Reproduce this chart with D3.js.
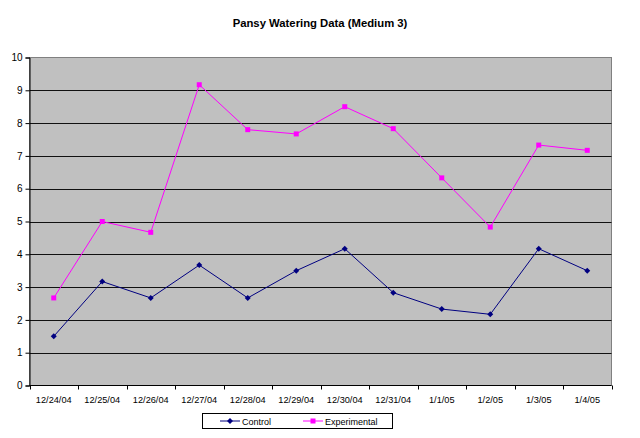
<!DOCTYPE html>
<html><head><meta charset="utf-8">
<script src="https://cdn.jsdelivr.net/npm/d3@7"></script>
<style>body{margin:0;background:#fff}svg{display:block}text{font-family:"Liberation Sans",Arial,sans-serif}</style>
</head><body>
<script>
const categories = ["12/24/04","12/25/04","12/26/04","12/27/04","12/28/04","12/29/04","12/30/04","12/31/04","1/1/05","1/2/05","1/3/05","1/4/05"];
const control = [1.5,3.17,2.67,3.67,2.67,3.5,4.17,2.83,2.33,2.17,4.17,3.5];
const experimental = [2.67,5.0,4.67,9.17,7.8,7.67,8.5,7.83,6.33,4.83,7.33,7.17];
const yTicks = [0,1,2,3,4,5,6,7,8,9,10];
const title = "Pansy Watering Data (Medium 3)";
const seriesNames = ["Control","Experimental"];

const W=640,H=438;
const m={l:29.5,r:611.5,t:57.5,b:385.5};
const svg=d3.select("body").append("svg").attr("width",W).attr("height",H);
const x=d3.scaleBand().domain(categories).range([m.l,m.r]);
const y=d3.scaleLinear().domain([0,10]).range([m.b,m.t]);

svg.append("rect").attr("x",m.l).attr("y",m.t).attr("width",m.r-m.l).attr("height",m.b-m.t)
  .attr("fill","#C0C0C0").attr("stroke","#808080").attr("stroke-width",1);

svg.append("g").selectAll("line").data(yTicks.slice(1,-1)).join("line")
  .attr("x1",m.l).attr("x2",m.r).attr("y1",d=>Math.round(y(d))+0.5).attr("y2",d=>Math.round(y(d))+0.5)
  .attr("stroke","#111").attr("stroke-width",1);

// y axis
const ya=svg.append("g").attr("transform",`translate(${m.l},0)`)
  .call(d3.axisLeft(y).tickValues(yTicks).tickSize(4).tickPadding(3));
ya.select(".domain").attr("stroke","#000");
ya.selectAll("text").attr("font-size",10).attr("fill","#000").style("font-family","Liberation Sans, Arial, sans-serif");

// x axis with ticks at boundaries
const xa=svg.append("g").attr("transform",`translate(0,${m.b})`);
xa.append("line").attr("x1",m.l).attr("x2",m.r).attr("stroke","#000");
const bounds=d3.range(categories.length+1).map(i=>m.l+i*x.step());
xa.selectAll("line.t").data(bounds).join("line").attr("class","t")
  .attr("x1",d=>Math.round(d)+0.5).attr("x2",d=>Math.round(d)+0.5).attr("y1",0).attr("y2",4).attr("stroke","#000");
xa.selectAll("text").data(categories).join("text")
  .attr("x",d=>x(d)+x.bandwidth()/2).attr("y",17).attr("text-anchor","middle")
  .attr("font-size",9.2).attr("fill","#000").text(d=>d);

const cx=d=>x(d)+x.bandwidth()/2;
const line=d3.line().x((d,i)=>cx(categories[i])).y(d=>y(d));

function drawSeries(vals,color,shape){
  svg.append("path").datum(vals).attr("d",line).attr("fill","none").attr("stroke",color).attr("stroke-width",1);
  const g=svg.append("g");
  vals.forEach((v,i)=>{
    const px=cx(categories[i]),py=y(v);
    if(shape==="diamond") g.append("path").attr("d",`M${px},${py-3}L${px+3},${py}L${px},${py+3}L${px-3},${py}Z`).attr("fill",color);
    else g.append("rect").attr("x",px-2.5).attr("y",py-2.5).attr("width",5).attr("height",5).attr("fill",color);
  });
}
drawSeries(control,"#000080","diamond");
drawSeries(experimental,"#FF00FF","square");

svg.append("text").attr("x",320).attr("y",27).attr("text-anchor","middle")
  .attr("font-size",11.3).attr("font-weight","bold").text(title);

// legend
const lg=svg.append("g");
lg.append("rect").attr("x",202.5).attr("y",413.5).attr("width",190).attr("height",15).attr("fill","#fff").attr("stroke","#000");
const items=[{n:seriesNames[0],c:"#000080",s:"diamond",x:220},{n:seriesNames[1],c:"#FF00FF",s:"square",x:303}];
items.forEach(it=>{
  const cy=421;
  lg.append("line").attr("x1",it.x).attr("x2",it.x+20).attr("y1",cy).attr("y2",cy).attr("stroke",it.c);
  const px=it.x+10;
  if(it.s==="diamond") lg.append("path").attr("d",`M${px},${cy-3}L${px+3},${cy}L${px},${cy+3}L${px-3},${cy}Z`).attr("fill",it.c);
  else lg.append("rect").attr("x",px-2.5).attr("y",cy-2.5).attr("width",5).attr("height",5).attr("fill",it.c);
  lg.append("text").attr("x",it.x+22).attr("y",cy+3.5).attr("font-size",9).text(it.n);
});
</script>
</body></html>
